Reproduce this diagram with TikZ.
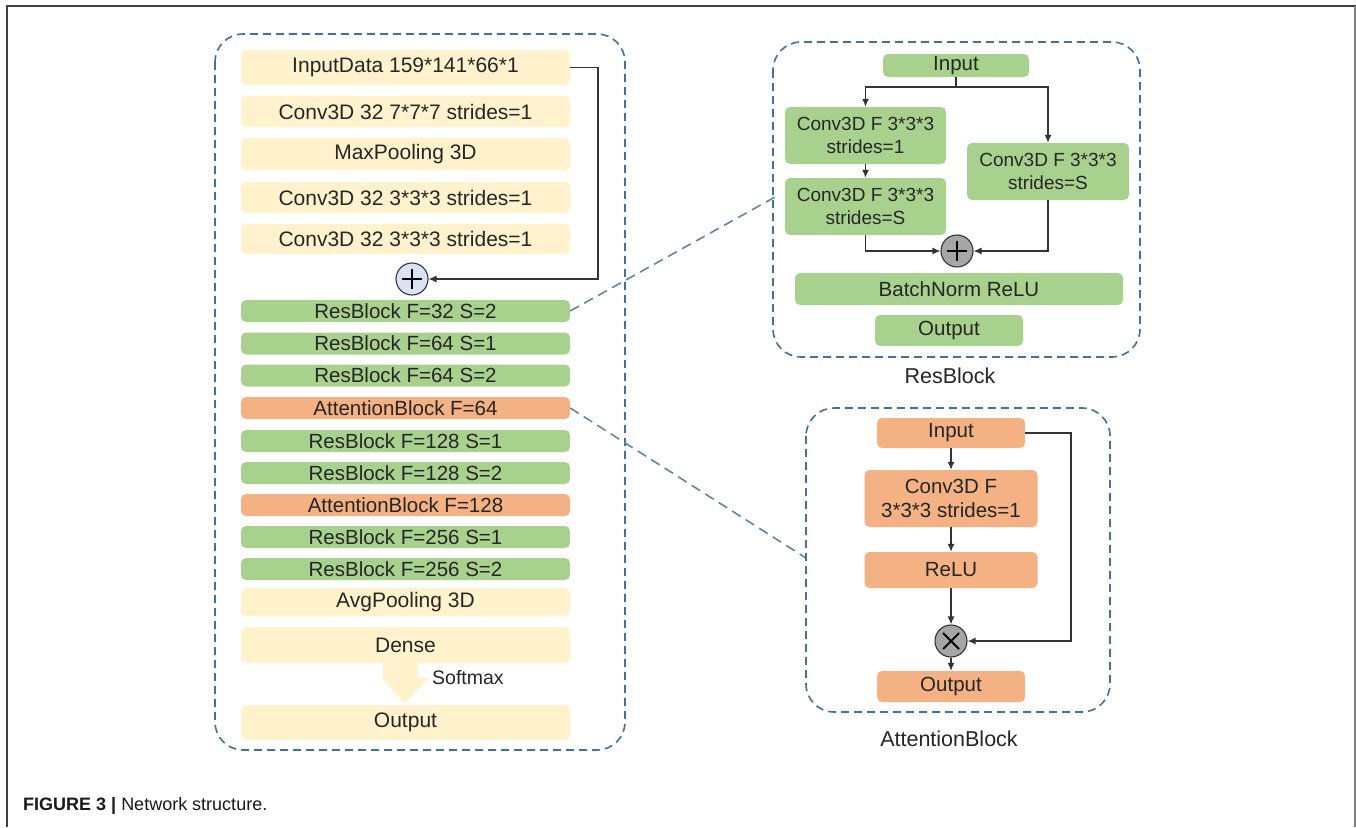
\documentclass[tikz,border=0pt]{standalone}
\usepackage{fontspec}
\setmainfont{Liberation Sans}
\usetikzlibrary{arrows.meta,calc}
\definecolor{yel}{HTML}{FFF2CC}
\definecolor{grn}{HTML}{A9D18E}
\definecolor{org}{HTML}{F4B183}
\definecolor{dsh}{HTML}{41719C}
\definecolor{txt}{HTML}{262626}
\definecolor{lnk}{HTML}{333333}
\definecolor{plusfill}{HTML}{DAE3F3}
\definecolor{opfill}{HTML}{A6A6A6}
\begin{document}
\begin{tikzpicture}[x=1pt,y=-1pt,
 blk/.style={rounded corners=5pt, inner sep=0pt, text=txt, align=center},
 ybox/.style={blk, fill=yel, minimum width=329pt, font=\fontsize{21}{24}\selectfont},
 gbox/.style={blk, fill=grn, minimum width=329pt, minimum height=22pt, font=\fontsize{20.5}{24}\selectfont},
 obox/.style={blk, fill=org, minimum width=329pt, minimum height=22pt, font=\fontsize{20.5}{24}\selectfont},
 rg/.style={blk, fill=grn, font=\fontsize{19}{23}\selectfont},
 ro/.style={blk, fill=org, font=\fontsize{20.5}{24}\selectfont},
 panel/.style={draw=dsh, line width=1.6pt, dash pattern=on 8pt off 5pt, rounded corners=28pt},
 link/.style={draw=lnk, line width=1.2pt},
 arr/.style={link, -{Latex[length=8pt,width=7pt]}},
 opc/.style={circle, draw=black!80, line width=1.1pt, minimum size=32pt, inner sep=0pt},
 opline/.style={draw=black, line width=1.8pt},
 zoomline/.style={draw=dsh!85, line width=1.6pt, dash pattern=on 10pt off 6pt},
 lbl/.style={text=txt, font=\fontsize{21.5}{25}\selectfont}
]
\useasboundingbox (0,0) rectangle (1356,827);
\fill[white] (0,0) rectangle (1356,827);
% frame
\draw[black!75, line width=2pt] (7,827) -- (7,6) -- (1356,6);
\draw[black!50, line width=2pt] (1354.5,6) -- (1354.5,827);

% ---------- left panel ----------
\draw[panel] (215,34) rectangle (625,750);
\node[ybox, minimum height=35pt] (in) at (405.5,67.5) {InputData 159*141*66*1};
\node[ybox, minimum height=31pt] (c1) at (405.5,111.5) {Conv3D 32 7*7*7 strides=1};
\node[ybox, minimum height=32pt] (mp) at (405.5,154) {MaxPooling 3D};
\node[ybox, minimum height=31pt] (c2) at (405.5,197.5) {Conv3D 32 3*3*3 strides=1};
\node[ybox, minimum height=30pt] (c3) at (405.5,239) {Conv3D 32 3*3*3 strides=1};
\node[opc, fill=plusfill] (plus) at (412,279) {};
\draw[opline] ($(plus)+(-10,0)$) -- ($(plus)+(10,0)$);
\draw[opline] ($(plus)+(0,-10)$) -- ($(plus)+(0,10)$);
\node[gbox] (r1) at (405.5,311) {ResBlock F=32 S=2};
\node[gbox] (r2) at (405.5,343.5) {ResBlock F=64 S=1};
\node[gbox] (r3) at (405.5,375.5) {ResBlock F=64 S=2};
\node[obox] (a1) at (405.5,408) {AttentionBlock F=64};
\node[gbox] (r4) at (405.5,441) {ResBlock F=128 S=1};
\node[gbox] (r5) at (405.5,473) {ResBlock F=128 S=2};
\node[obox] (a2) at (405.5,505) {AttentionBlock F=128};
\node[gbox] (r6) at (405.5,537) {ResBlock F=256 S=1};
\node[gbox] (r7) at (405.5,569) {ResBlock F=256 S=2};
\node[ybox, minimum height=28pt] (ap) at (405.5,602) {AvgPooling 3D};
\node[ybox, minimum height=36pt] (de) at (405.5,645) {Dense};
\node[ybox, minimum height=35pt] (out) at (405.5,722.5) {Output};
\fill[yel] (383,663) -- (418,663) -- (418,678) -- (429,678) -- (405,703.5) -- (381,678) -- (383,678) -- cycle;
\node[anchor=west, text=txt, font=\fontsize{19.5}{23}\selectfont, inner sep=0pt] (sm) at (432,678) {Softmax};
\draw[arr] (in.east) -- (598,67.5) |- (plus.east);

% zoom lines
\coordinate (rbpin) at (775,197);
\coordinate (abpin) at (806,558);
\draw[zoomline] (r1.east) -- (rbpin);
\draw[zoomline] (a1.east) -- (abpin);

% ---------- ResBlock panel ----------
\draw[panel] (773,42) rectangle (1140,357);
\node[rg, minimum width=146pt, minimum height=23pt, font=\fontsize{20.5}{24}\selectfont] (rin) at (956,65.5) {Input};
\node[rg, minimum width=161pt, minimum height=57pt] (rc1) at (865.5,135.5) {Conv3D F 3*3*3\\strides=1};
\node[rg, minimum width=161pt, minimum height=57pt] (rc2) at (865.5,206.5) {Conv3D F 3*3*3\\strides=S};
\node[rg, minimum width=162pt, minimum height=57pt] (rc3) at (1048,171.5) {Conv3D F 3*3*3\\strides=S};
\node[opc, fill=opfill] (rplus) at (957,251) {};
\draw[opline] ($(rplus)+(-10,0)$) -- ($(rplus)+(10,0)$);
\draw[opline] ($(rplus)+(0,-10)$) -- ($(rplus)+(0,10)$);
\node[rg, minimum width=328pt, minimum height=32pt, font=\fontsize{20.5}{24}\selectfont] (rbn) at (959,289) {BatchNorm ReLU};
\node[rg, minimum width=148pt, minimum height=31pt, font=\fontsize{20.5}{24}\selectfont] (rout) at (949,330.5) {Output};
\coordinate (rsplit) at (956,87);
\draw[link] (rin.south) -- (rsplit);
\draw[arr] (rsplit) -| (rc1.north);
\draw[arr] (rsplit) -| (rc3.north);
\draw[arr] (rc1.south) -- (rc2.north);
\draw[arr] (rc2.south) |- (rplus.west);
\draw[arr] (rc3.south) |- (rplus.east);
\node[lbl] (rlbl) at (950,376) {ResBlock};

% ---------- AttentionBlock panel ----------
\draw[panel] (806,408) rectangle (1110,712);
\node[ro, minimum width=148pt, minimum height=30pt] (ain) at (951,433) {Input};
\node[ro, minimum width=173pt, minimum height=57pt] (aconv) at (951,498.5) {Conv3D F\\3*3*3 strides=1};
\node[ro, minimum width=173pt, minimum height=36pt] (arelu) at (951,570) {ReLU};
\node[opc, fill=opfill] (atimes) at (951,641) {};
\draw[opline] ($(atimes)+(-8,-8)$) -- ($(atimes)+(8,8)$);
\draw[opline] ($(atimes)+(-8,8)$) -- ($(atimes)+(8,-8)$);
\node[ro, minimum width=148pt, minimum height=31pt] (aout) at (951,686.5) {Output};
\draw[arr] (ain.south) -- (aconv.north);
\draw[arr] (aconv.south) -- (arelu.north);
\draw[arr] (arelu.south) -- (atimes.north);
\draw[arr] (atimes.south) -- (aout.north);
\draw[arr] (ain.east) -- (1071,433) |- (atimes.east);
\node[lbl] (albl) at (949,739) {AttentionBlock};

% caption
\node[anchor=west, inner sep=0pt, text=black!90, font=\fontsize{18}{22}\selectfont] (cap) at (23,806) {\textbf{FIGURE 3 |} Network structure.};
\end{tikzpicture}
\end{document}
